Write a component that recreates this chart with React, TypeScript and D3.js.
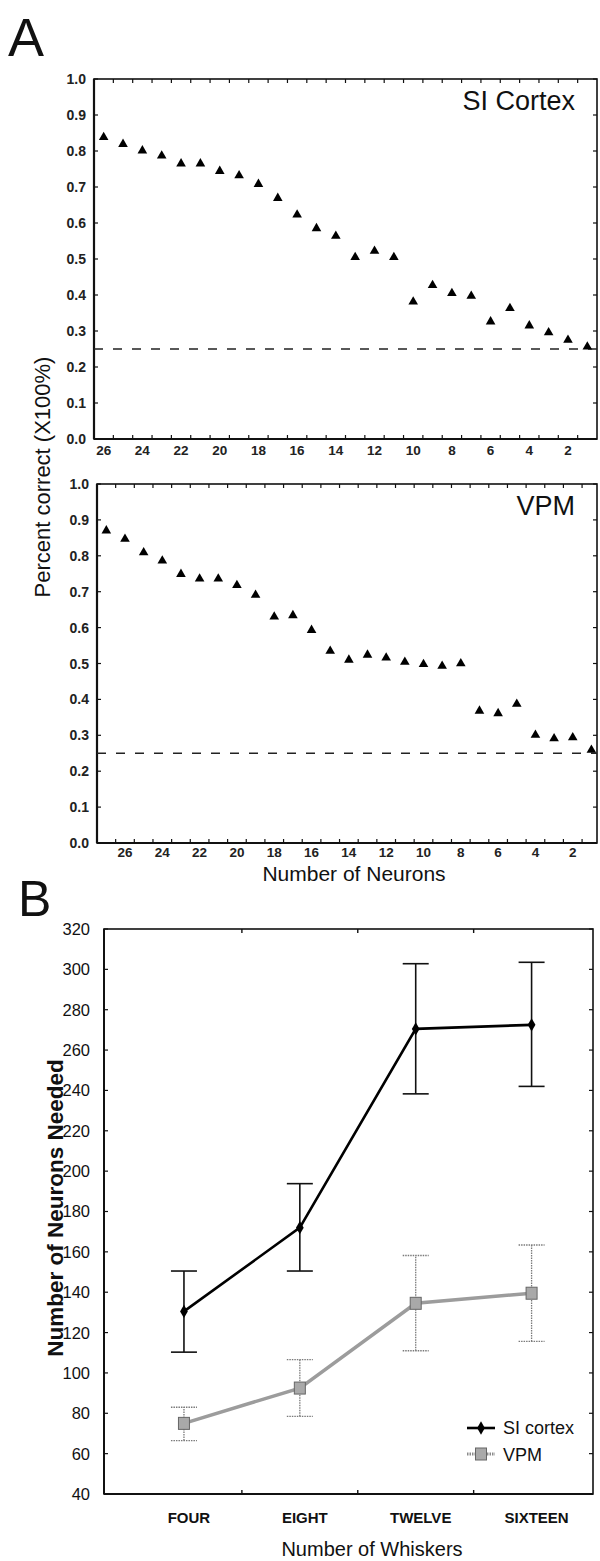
import React from "react";
import * as d3 from "d3";

// ---------- Panel A data ----------
const siNeurons = [26, 25, 24, 23, 22, 21, 20, 19, 18, 17, 16, 15, 14, 13, 12, 11, 10, 9, 8, 7, 6, 5, 4, 3, 2, 1];
const siCorrect = [0.838, 0.819, 0.801, 0.787, 0.765, 0.765, 0.744, 0.732, 0.708, 0.669, 0.623, 0.585, 0.564, 0.505, 0.522, 0.505, 0.381, 0.427, 0.405, 0.397, 0.326, 0.363, 0.315, 0.296, 0.275, 0.256];

const vpmNeurons = [27, 26, 25, 24, 23, 22, 21, 20, 19, 18, 17, 16, 15, 14, 13, 12, 11, 10, 9, 8, 7, 6, 5, 4, 3, 2, 1];
const vpmCorrect = [0.870, 0.847, 0.809, 0.786, 0.749, 0.736, 0.736, 0.718, 0.691, 0.630, 0.634, 0.593, 0.535, 0.510, 0.524, 0.516, 0.504, 0.498, 0.493, 0.500, 0.368, 0.361, 0.387, 0.301, 0.291, 0.294, 0.259];

const percentTicks = [0.0, 0.1, 0.2, 0.3, 0.4, 0.5, 0.6, 0.7, 0.8, 0.9, 1.0];
const neuronTickLabels = [26, 24, 22, 20, 18, 16, 14, 12, 10, 8, 6, 4, 2];
const chanceLevel = 0.25;

// ---------- Panel B data ----------
const whiskerCats = ["FOUR", "EIGHT", "TWELVE", "SIXTEEN"];
const siMean = [130.5, 172, 270.5, 272.5];
const siUpper = [150.5, 193.8, 302.8, 303.5];
const siLower = [110.3, 150.5, 238.3, 242];
const vpmMean = [75, 92.5, 134.5, 139.5];
const vpmUpper = [83, 106.6, 158.2, 163.4];
const vpmLower = [66.5, 78.5, 111, 115.6];
const neededTicks = [40, 60, 80, 100, 120, 140, 160, 180, 200, 220, 240, 260, 280, 300, 320];

const FONT = "'Liberation Sans', Arial, Helvetica, sans-serif";

type PanelProps = {
  top: number;
  bottom: number;
  left: number;
  right: number;
  domain: [number, number];
  neurons: number[];
  values: number[];
  title: string;
  labelY: number;
};

function PanelA({ top, bottom, left, right, domain, neurons, values, title, labelY }: PanelProps) {
  const x = d3.scaleLinear().domain(domain).range([left, right]);
  const y = d3.scaleLinear().domain([0, 1]).range([bottom, top]);
  const tri = d3.symbol().type(d3.symbolTriangle).size(40)() as string;
  const minor = neurons.slice(0, -1).map((n) => n - 0.5);
  const tk = 4;
  return (
    <g>
      <rect x={left} y={top} width={right - left} height={bottom - top} fill="none" stroke="#111" strokeWidth={1.6} />
      <line x1={left} y1={bottom} x2={right} y2={bottom} stroke="#111" strokeWidth={2.2} />
      <line x1={left} y1={top} x2={left} y2={bottom} stroke="#111" strokeWidth={2.2} />
      {percentTicks.map((t) => (
        <g key={"yt" + t}>
          <line x1={left} x2={left + tk} y1={y(t)} y2={y(t)} stroke="#111" strokeWidth={1.2} />
          <line x1={right} x2={right - tk} y1={y(t)} y2={y(t)} stroke="#111" strokeWidth={1.2} />
          <text x={left - 8} y={y(t)} dy="0.36em" textAnchor="end" fontSize={14} fontWeight="bold" fill="#222" fontFamily={FONT}>
            {t.toFixed(1)}
          </text>
        </g>
      ))}
      {minor.map((m) => (
        <g key={"xm" + m}>
          <line x1={x(m)} x2={x(m)} y1={bottom} y2={bottom - tk} stroke="#111" strokeWidth={1.2} />
          <line x1={x(m)} x2={x(m)} y1={top} y2={top + tk} stroke="#111" strokeWidth={1.2} />
        </g>
      ))}
      {neuronTickLabels.map((n) => (
        <text key={"xl" + n} x={x(n)} y={labelY} textAnchor="middle" fontSize={13.5} fontWeight="bold" fill="#222" fontFamily={FONT}>
          {n}
        </text>
      ))}
      <line x1={left} x2={right} y1={y(chanceLevel)} y2={y(chanceLevel)} stroke="#222" strokeWidth={1.7} strokeDasharray="9,10" />
      {values.map((v, i) => (
        <path key={"p" + i} d={tri} transform={`translate(${x(neurons[i])},${y(v)})`} fill="#000" />
      ))}
      <text x={575} y={top + 31} textAnchor="end" fontSize={27} fill="#111" fontFamily={FONT}>
        {title}
      </text>
    </g>
  );
}

function PanelB() {
  const left = 104;
  const right = 593;
  const top = 929;
  const bottom = 1494;
  const x = d3.scaleLinear().domain([-0.69, 3.53]).range([left, right]);
  const y = d3.scaleLinear().domain([40, 320]).range([bottom, top]);
  const idx = whiskerCats.map((_, i) => i);
  const siLine = d3.line<number>().x((i) => x(i)).y((i) => y(siMean[i]));
  const vpmLine = d3.line<number>().x((i) => x(i)).y((i) => y(vpmMean[i]));
  const diamond = d3.symbol().type(d3.symbolDiamond).size(52)() as string;
  const cap = 13;
  const tk = 4;
  const mids = idx.slice(0, -1).map((i) => i + 0.5);
  return (
    <g>
      <rect x={left} y={top} width={right - left} height={bottom - top} fill="none" stroke="#111" strokeWidth={1.6} />
      <line x1={left} y1={bottom} x2={right} y2={bottom} stroke="#111" strokeWidth={2.2} />
      <line x1={left} y1={top} x2={left} y2={bottom} stroke="#111" strokeWidth={2} />
      {neededTicks.map((t) => (
        <g key={"by" + t}>
          <line x1={left} x2={left + tk} y1={y(t)} y2={y(t)} stroke="#111" strokeWidth={1.2} />
          <line x1={right} x2={right - tk} y1={y(t)} y2={y(t)} stroke="#111" strokeWidth={1.2} />
          <text x={left - 14} y={y(t)} dy="0.36em" textAnchor="end" fontSize={16.5} fill="#111" fontFamily={FONT}>
            {t}
          </text>
        </g>
      ))}
      {mids.map((m) => (
        <g key={"bm" + m}>
          <line x1={x(m)} x2={x(m)} y1={bottom} y2={bottom - tk} stroke="#111" strokeWidth={1.4} />
          <line x1={x(m)} x2={x(m)} y1={top} y2={top + tk} stroke="#111" strokeWidth={1.4} />
        </g>
      ))}
      {whiskerCats.map((c, i) => (
        <text key={c} x={x(i) + 5} y={1523} textAnchor="middle" fontSize={15} fontWeight="bold" fill="#111" fontFamily={FONT}>
          {c}
        </text>
      ))}
      {idx.map((i) => (
        <g key={"ve" + i} stroke="#7a7a7a" strokeWidth={1.3} strokeDasharray="1.5,1">
          <line x1={x(i)} x2={x(i)} y1={y(vpmLower[i])} y2={y(vpmUpper[i])} />
          <line x1={x(i) - cap} x2={x(i) + cap} y1={y(vpmLower[i])} y2={y(vpmLower[i])} />
          <line x1={x(i) - cap} x2={x(i) + cap} y1={y(vpmUpper[i])} y2={y(vpmUpper[i])} />
        </g>
      ))}
      <path d={vpmLine(idx) as string} fill="none" stroke="#9c9c9c" strokeWidth={3.5} />
      {idx.map((i) => (
        <rect key={"vs" + i} x={x(i) - 5.5} y={y(vpmMean[i]) - 6} width={11} height={12} fill="#a9a9a9" stroke="#666" strokeWidth={1} />
      ))}
      {idx.map((i) => (
        <g key={"se" + i} stroke="#111" strokeWidth={1.6}>
          <line x1={x(i)} x2={x(i)} y1={y(siLower[i])} y2={y(siUpper[i])} />
          <line x1={x(i) - cap} x2={x(i) + cap} y1={y(siLower[i])} y2={y(siLower[i])} />
          <line x1={x(i) - cap} x2={x(i) + cap} y1={y(siUpper[i])} y2={y(siUpper[i])} />
        </g>
      ))}
      <path d={siLine(idx) as string} fill="none" stroke="#000" strokeWidth={2.6} />
      {idx.map((i) => (
        <path key={"sd" + i} d={diamond} transform={`translate(${x(i)},${y(siMean[i])})`} fill="#000" />
      ))}
      {/* legend */}
      <line x1={467} x2={495} y1={1428} y2={1428} stroke="#000" strokeWidth={2.6} />
      <path d={diamond} transform="translate(481,1428)" fill="#000" />
      <text x={503} y={1434} fontSize={18} fill="#111" fontFamily={FONT}>SI cortex</text>
      <line x1={467} x2={495} y1={1454} y2={1454} stroke="#8a8a8a" strokeWidth={3} strokeDasharray="1.5,1" />
      <rect x={475.5} y={1448} width={11} height={12} fill="#a9a9a9" stroke="#666" strokeWidth={1} />
      <text x={503} y={1461} fontSize={18} fill="#111" fontFamily={FONT}>VPM</text>
      <text x={372} y={1556} textAnchor="middle" fontSize={20} fill="#111" fontFamily={FONT}>
        Number of Whiskers
      </text>
      <text transform="translate(63,1208) rotate(-90)" textAnchor="middle" fontSize={22.5} fontWeight="bold" fill="#111" fontFamily={FONT}>
        Number of Neurons Needed
      </text>
    </g>
  );
}

export default function App() {
  return (
    <svg width={600} height={1561} style={{ position: "absolute", left: 0, top: 0, background: "#fff" }} fontFamily={FONT}>
      <rect x={0} y={0} width={600} height={1561} fill="#fff" />
      <text x={8} y={56} fontSize={54} fill="#111" fontFamily={FONT}>A</text>
      <PanelA top={79} bottom={439} left={94} right={597} domain={[26.5, 0.5]} neurons={siNeurons} values={siCorrect} title="SI Cortex" labelY={455} />
      <PanelA top={484} bottom={843} left={97} right={597} domain={[27.5, 0.7]} neurons={vpmNeurons} values={vpmCorrect} title="VPM" labelY={857} />
      <text x={354} y={881} textAnchor="middle" fontSize={21} fill="#111" fontFamily={FONT}>Number of Neurons</text>
      <text transform="translate(50,477) rotate(-90)" textAnchor="middle" fontSize={22} fill="#111" fontFamily={FONT}>
        Percent correct (X100%)
      </text>
      <text x={18} y={916} fontSize={50} fill="#111" fontFamily={FONT}>B</text>
      <PanelB />
    </svg>
  );
}
